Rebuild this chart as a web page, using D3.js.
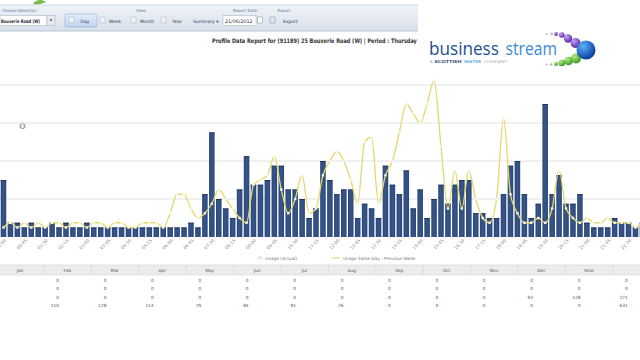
<!DOCTYPE html>
<html><head><meta charset="utf-8">
<script src="https://cdn.jsdelivr.net/npm/d3@7/dist/d3.min.js"></script>
<style>
html,body{margin:0;padding:0;background:#fff;overflow:hidden}
svg{display:block;font-family:"DejaVu Sans",Verdana,sans-serif}
</style></head>
<body>
<svg id="c" width="640" height="360"></svg>
<script>
// ---------- DATA ----------
const times = ["00:00","00:15","00:30","00:45","01:00","01:15","01:30","01:45","02:00","02:15","02:30","02:45",
"03:00","03:15","03:30","03:45","04:00","04:15","04:30","04:45","05:00","05:15","05:30","05:45",
"06:00","06:15","06:30","06:45","07:00","07:15","07:30","07:45","08:00","08:15","08:30","08:45",
"09:00","09:15","09:30","09:45","10:00","10:15","10:30","10:45","11:00","11:15","11:30","11:45",
"12:00","12:15","12:30","12:45","13:00","13:15","13:30","13:45","14:00","14:15","14:30","14:45",
"15:00","15:15","15:30","15:45","16:00","16:15","16:30","16:45","17:00","17:15","17:30","17:45",
"18:00","18:15","18:30","18:45","19:00","19:15","19:30","19:45","20:00","20:15","20:30","20:45",
"21:00","21:15","21:30","21:45","22:00","22:15","22:30","22:45","23:00"];

const usageActual = [12,3,3,2,3,2,2,3,2,3,2,2,3,2,2,2,2,2,2,2,2,2,2,2,2,2,2,3,2,
9,22,8,6,4,10,17,11,11,12,15,15,10,10,8,4,6,16,12,9,10,10,4,7,6,4,15,11,9,14,6,
10,4,8,11,7,11,12,12,5,5,4,4,9,15,16,9,4,7,28,9,13,7,7,9,3,2,2,2,4,3,3,2,3];

const usagePrevWeek = [2,3,2,3,2,3,2,3,3,2,3,3,2,3,3,2,3,3,2,2,3,3,3,2,5,9,9,6,4,
5,7,10,8,6,4,3,11,12,13,17,10,5,8,13,5,6,13,16,18,16,12,7,20,21,7,13,16,22,28,26,
24,28,33,19,6,14,6,14,8,4,3,8,25,9,5,3,3,4,3,6,14,6,4,3,4,3,3,4,3,3,3,2,3];

const yTicks = [8,16,24,32];

const seriesNames = ["Usage (Actual)","Usage Same Day - Previous Week"];

const months = ["Jan","Feb","Mar","Apr","May","Jun","Jul","Aug","Sep","Oct","Nov","Dec","Total"];
const row1 = [0,0,0,0,0,0,0,0,0,0,0,0,0];
const row2 = [0,0,0,0,0,0,0,0,0,0,0,0,0];
const row3 = [0,0,0,0,0,0,0,0,0,0,93,128,221];
const row4 = [110,128,114,79,84,91,26,0,0,0,0,0,631];

const titleText = "Profile Data Report for (91189) 25 Bouverie Road (W) | Period : Thursday";

// ---------- DRAW ----------
const svg = d3.select("#c");
const defs = svg.append("defs");

// place a text at (x,y) and squeeze it horizontally to a given width
function fitText(parent, x, y, width, str){
  const g = parent.append("g");
  const t = g.append("text").attr("x",0).attr("y",0).text(str);
  return {g, t, fit(){ const w = t.node().getComputedTextLength(); g.attr("transform",`translate(${x},${y}) scale(${width/w},1)`); return t; }};
}

const tg = defs.append("linearGradient").attr("id","tb").attr("x1",0).attr("y1",0).attr("x2",0).attr("y2",1);
tg.append("stop").attr("offset","0").attr("stop-color","#f0f3f7");
tg.append("stop").attr("offset","1").attr("stop-color","#d8e0ea");
const bg = defs.append("linearGradient").attr("id","btn").attr("x1",0).attr("y1",0).attr("x2",0).attr("y2",1);
bg.append("stop").attr("offset","0").attr("stop-color","#e3eefa");
bg.append("stop").attr("offset","1").attr("stop-color","#bcd3ee");
const barG = defs.append("linearGradient").attr("id","barg").attr("x1",0).attr("y1",0).attr("x2",1).attr("y2",0);
barG.append("stop").attr("offset","0").attr("stop-color","#2b4777");
barG.append("stop").attr("offset","0.5").attr("stop-color","#37568b");
barG.append("stop").attr("offset","1").attr("stop-color","#2b4777");

function sphere(id, c1, c2){
  const g = defs.append("radialGradient").attr("id",id).attr("cx","35%").attr("cy","30%").attr("r","70%");
  g.append("stop").attr("offset","0").attr("stop-color",c1);
  g.append("stop").attr("offset","1").attr("stop-color",c2);
}
sphere("sBlue","#5fb0ff","#0a3f9e");
sphere("sPurple","#c8a0ff","#5a2a9a");
sphere("sGreen","#b6ef7a","#3d9a2a");
sphere("sGrey","#dddddd","#9a9a9a");

svg.append("rect").attr("width",640).attr("height",360).attr("fill","#fff");

// ---- toolbar ----
svg.append("path").attr("d","M33,4 C36,-1 42,-1 46,2 C42,4 37,5 33,4 Z").attr("fill","#7dbb4a");
const tb = svg.append("g");
tb.append("rect").attr("x",0).attr("y",5).attr("width",418).attr("height",26).attr("fill","url(#tb)");
tb.append("line").attr("x1",0).attr("x2",418).attr("y1",31).attr("y2",31).attr("stroke","#b7c5d5");
tb.append("line").attr("x1",0).attr("x2",418).attr("y1",5).attr("y2",5).attr("stroke","#cfd9e4");
const lab = (x,t,anchor)=>tb.append("text").attr("x",x).attr("y",11.5).attr("font-size",4).attr("fill","#5876a3").attr("text-anchor",anchor||"start").text(t);
lab(2,"Choose Selection");
lab(141,"View","middle");
lab(245,"Report Date","middle");
lab(284,"Export","middle");
// dropdown
tb.append("rect").attr("x",0).attr("y",15.5).attr("width",47).attr("height",10).attr("fill","#fff").attr("stroke","#a9b8ca").attr("stroke-width",0.6);
const dd = fitText(tb,1,22.5,39,"Bouverie Road (W)");
dd.t.attr("font-size",4.8).attr("font-weight","bold").attr("fill","#1e2a3a"); dd.fit();
tb.append("rect").attr("x",47).attr("y",15.5).attr("width",8).attr("height",10).attr("fill","#e6ecf3").attr("stroke","#a9b8ca").attr("stroke-width",0.6);
tb.append("path").attr("d","M49.5,19.5 L52.5,19.5 L51,21.5 Z").attr("fill","#445");
// day button
tb.append("rect").attr("x",65).attr("y",14).attr("width",32).attr("height",13).attr("rx",1.5).attr("fill","url(#btn)").attr("stroke","#93b0d3").attr("stroke-width",0.6);
const btn = (ix,tx,t)=>{
  tb.append("rect").attr("x",ix).attr("y",17).attr("width",5).attr("height",6).attr("fill","#eef2f7").attr("stroke","#9aaabd").attr("stroke-width",0.4);
  tb.append("text").attr("x",tx).attr("y",22.5).attr("font-size",4.5).attr("fill","#2a3a55").attr("text-anchor","middle").text(t);
};
btn(69,85,"Day");
btn(100,115,"Week");
btn(131,147,"Month");
btn(161,177,"Year");
tb.append("text").attr("x",193).attr("y",22.5).attr("font-size",4.5).attr("fill","#2a3a55").text("Summary \u25BE");
// date box
tb.append("rect").attr("x",223).attr("y",15.5).attr("width",33).attr("height",10).attr("fill","#fff").attr("stroke","#a9b8ca").attr("stroke-width",0.6);
tb.append("text").attr("x",225).attr("y",22.5).attr("font-size",4.8).attr("fill","#1e2a3a").text("21/06/2012");
tb.append("rect").attr("x",257.5).attr("y",17).attr("width",5).attr("height",6).attr("fill","#fff").attr("stroke","#7d8ea3").attr("stroke-width",0.5);
tb.append("rect").attr("x",270).attr("y",17).attr("width",5).attr("height",6).attr("fill","#dfe7ef").attr("stroke","#7d8ea3").attr("stroke-width",0.5);
tb.append("text").attr("x",283).attr("y",22.5).attr("font-size",4.5).attr("fill","#2a3a55").text("Export");

// busy cursor at left
svg.append("circle").attr("cx",22.5).attr("cy",126).attr("r",2.6).attr("fill","#e8e8e8").attr("stroke","#666").attr("stroke-width",0.7);

// ---- title ----
const tt = fitText(svg,212,43,205,titleText);
tt.t.attr("font-size",6.2).attr("font-weight","bold").attr("fill","#333"); tt.fit();

// ---- logo ----
const logo = svg.append("g").attr("font-family","'Open Sans',sans-serif");
const words = [["business",429,70,"#1d4f8f"],["stream",505.5,51.5,"#3a8bd0"]];
words.forEach(w=>{
  const f = fitText(logo,w[1],55,w[2],w[0]);
  f.t.attr("font-size",18.5).attr("fill",w[3]); f.fit();
});
const sub = [["A",430,2.5,"#999","normal"],["SCOTTISH",434.5,27,"#1d3f75","bold"],["WATER",464,17,"#5ab4e0","bold"],["COMPANY",484,23,"#aab","normal"]];
sub.forEach(s=>{
  const f = fitText(logo,s[1],63.4,s[2],s[0]);
  f.t.attr("font-size",3.6).attr("fill",s[3]).attr("font-weight",s[4]); f.fit();
});
const bubbles = [
  [546.5,34,0.9,"sGrey"],[551.5,33.8,1.3,"sGrey"],[556,34,1.9,"sPurple"],[561.8,35,2.8,"sPurple"],
  [568,38.5,4.2,"sPurple"],[575.5,43,5,"sPurple"],
  [546.5,64.5,0.9,"sGrey"],[551,64.2,1.3,"sGrey"],[556,64,2,"sGreen"],[561.8,63,3.2,"sGreen"],
  [568.5,61,4.3,"sGreen"],[576,58.5,5,"sGreen"],[586,50,9.5,"sBlue"]
];
logo.selectAll("circle").data(bubbles).join("circle")
  .attr("cx",d=>d[0]).attr("cy",d=>d[1]).attr("r",d=>d[2]).attr("fill",d=>"url(#"+d[3]+")");

// ---- chart ----
const x = d3.scaleBand().domain(times).range([0, 645.9]).paddingInner(0.2).paddingOuter(0.1);
const y = d3.scaleLinear().domain([0,40]).range([237,47]);

const chart = svg.append("g");
chart.selectAll("line.grid").data(yTicks).join("line").attr("class","grid")
  .attr("x1",0).attr("x2",640).attr("y1",d=>y(d)).attr("y2",d=>y(d))
  .attr("stroke","#e2e2e2").attr("stroke-width",1);

chart.selectAll("rect.bar").data(usageActual).join("rect").attr("class","bar")
  .attr("x",(d,i)=>x(times[i])).attr("width",x.bandwidth())
  .attr("y",d=>y(d)).attr("height",d=>y(0)-y(d)).attr("fill","url(#barg)");
chart.selectAll("rect.cap").data(usageActual).join("rect").attr("class","cap")
  .attr("x",(d,i)=>x(times[i])).attr("width",x.bandwidth())
  .attr("y",d=>y(d)).attr("height",0.8).attr("fill","#1c2f52");

const line = d3.line().x((d,i)=>x(times[i])+x.bandwidth()/2).y(d=>y(d)).curve(d3.curveMonotoneX);
chart.append("path").datum(usagePrevWeek).attr("d",line).attr("fill","none")
  .attr("stroke","#e4d76c").attr("stroke-width",1.3);
chart.selectAll("rect.mk").data(usagePrevWeek).join("rect").attr("class","mk")
  .attr("x",(d,i)=>x(times[i])+x.bandwidth()/2-1.2).attr("y",d=>y(d)-1.2)
  .attr("width",2.4).attr("height",2.4).attr("fill","#f7f5e4");

// x axis labels
const xAxis = d3.axisBottom(x).tickValues(times.filter((t,i)=>i%3===0)).tickSize(0).tickPadding(0);
const ax = chart.append("g").attr("transform","translate(0,239)").call(xAxis);
ax.select(".domain").remove();
ax.selectAll("text").attr("font-size",4.3).attr("fill","#8a8a8a").attr("font-family","'DejaVu Sans',sans-serif")
  .attr("text-anchor","end").attr("dy","0.3em").attr("dx","0")
  .attr("transform","translate(2,1) rotate(-45)");

// legend
const lg = svg.append("g");
lg.append("path").attr("d","M258,259.5 L260,256.5 L262,259.5").attr("fill","none").attr("stroke","#9aa7b8").attr("stroke-width",0.6);
lg.append("text").attr("x",265.5).attr("y",259.5).attr("font-size",4.3).attr("fill","#777").text(seriesNames[0]);
lg.append("line").attr("x1",332).attr("x2",340).attr("y1",258).attr("y2",258).attr("stroke","#e4d76c").attr("stroke-width",1.2);
lg.append("text").attr("x",343).attr("y",259.5).attr("font-size",4.3).attr("fill","#777").text(seriesNames[1]);

// ---- table ----
const tbl = svg.append("g");
tbl.append("rect").attr("x",0).attr("y",265).attr("width",640).attr("height",10).attr("fill","#ececec");
tbl.append("line").attr("x1",0).attr("x2",640).attr("y1",265).attr("y2",265).attr("stroke","#d2d2d2").attr("stroke-width",0.6);
tbl.append("line").attr("x1",0).attr("x2",640).attr("y1",275).attr("y2",275).attr("stroke","#d8d8d8").attr("stroke-width",0.6);
tbl.selectAll("line.sep").data(months).join("line").attr("class","sep")
  .attr("x1",(d,i)=>44+47.4*i).attr("x2",(d,i)=>44+47.4*i).attr("y1",266).attr("y2",274)
  .attr("stroke","#d0d0d0").attr("stroke-width",0.6);
tbl.selectAll("text.hd").data(months).join("text").attr("class","hd")
  .attr("x",(d,i)=>20+47.4*i).attr("y",271.8).attr("font-size",4.3).attr("fill","#555").attr("text-anchor","middle").text(d=>d);
[row1,row2,row3,row4].forEach((row,r)=>{
  tbl.selectAll("text.r"+r).data(row).join("text").attr("class","r"+r)
    .attr("x",(d,i)=>59+47.4*i).attr("y",282+8.3*r).attr("font-size",4.3).attr("fill","#555").attr("text-anchor","end").text(d=>d);
});
</script>
</body></html>
